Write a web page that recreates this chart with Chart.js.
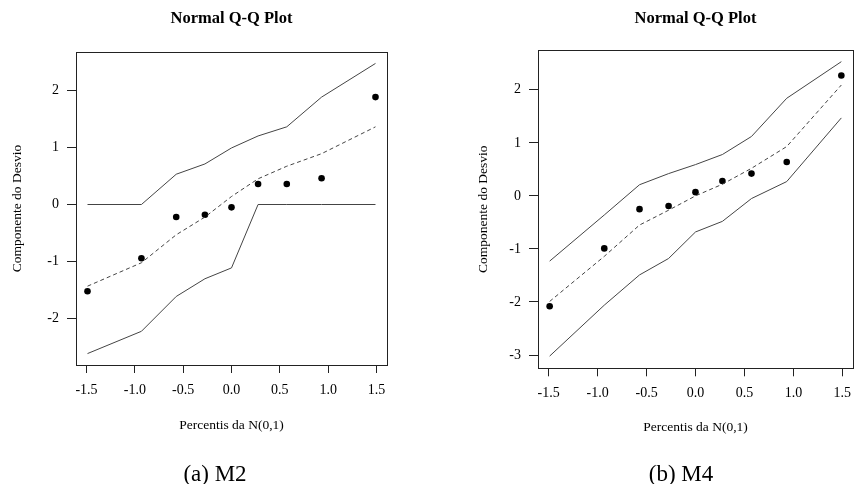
<!DOCTYPE html>
<html>
<head>
<meta charset="utf-8">
<script src="https://cdn.jsdelivr.net/npm/chart.js@4/dist/chart.umd.min.js"></script>
<style>
  body { margin: 0; background: #fff; }
  #wrap { position: relative; width: 857px; height: 484px; overflow: hidden; }
  .panel { position: absolute; top: 0; height: 484px; }
  .caption { position: absolute; font-family: 'Liberation Serif', serif; font-size: 23px; color: #000; transform: translate(-50%, -50%); white-space: nowrap; }
</style>
</head>
<body>
<div id="wrap">
  <div class="panel" style="left:0;width:430px"><canvas id="m2Chart"></canvas></div>
  <div class="panel" style="left:430px;width:427px"><canvas id="m4Chart"></canvas></div>
  <div class="caption" style="left:215px;top:474px">(a) M2</div>
  <div class="caption" style="left:681px;top:474px">(b) M4</div>
</div>
<script>
// theoretical quantiles of N(0,1)
const quantiles = [-1.49, -0.932, -0.572, -0.275, 0, 0.275, 0.572, 0.932, 1.49];
const xTicks = [-1.5, -1.0, -0.5, 0.0, 0.5, 1.0, 1.5];

// M2
const m2Points = [-1.52, -0.94, -0.22, -0.18, -0.05, 0.36, 0.36, 0.46, 1.88];
const m2Upper = [0, 0, 0.53, 0.71, 0.99, 1.20, 1.36, 1.88, 2.47];
const m2Lower = [-2.61, -2.22, -1.61, -1.30, -1.11, 0, 0, 0, 0];
const m2Mean = [-1.43, -1.02, -0.53, -0.22, 0.14, 0.45, 0.67, 0.89, 1.36];
const m2YTicks = [-2, -1, 0, 1, 2];

// M4
const m4Points = [-2.08, -0.99, -0.25, -0.19, 0.07, 0.28, 0.42, 0.64, 2.27];
const m4Upper = [-1.23, -0.36, 0.21, 0.42, 0.59, 0.78, 1.12, 1.84, 2.53];
const m4Lower = [-3.02, -2.06, -1.49, -1.18, -0.68, -0.48, -0.05, 0.27, 1.47];
const m4Mean = [-1.99, -1.14, -0.55, -0.27, 0.0, 0.22, 0.52, 0.93, 2.09];
const m4YTicks = [-3, -2, -1, 0, 1, 2];

const serif = "'Liberation Serif', 'Times New Roman', serif";

function pairs(ys) {
    return quantiles.map((x, i) => ({ x: x, y: ys[i] }));
}

// draws the R style box round the plot region
const boxPlugin = {
    id: 'box',
    afterDatasetsDraw(chart) {
        const a = chart.chartArea;
        const ctx = chart.ctx;
        ctx.save();
        ctx.strokeStyle = '#222';
        ctx.lineWidth = 1;
        ctx.strokeRect(Math.round(a.left) + 0.5, Math.round(a.top) + 0.5,
            Math.round(a.right - a.left), Math.round(a.bottom - a.top));
        ctx.restore();
    }
};

function qqChart(id, pts, upper, lower, mean, yTicks, cfg) {
    const line = (data, dash) => ({
        data: pairs(data),
        showLine: true,
        borderColor: '#444',
        borderWidth: 1,
        borderDash: dash,
        pointRadius: 0,
        fill: false,
        tension: 0,
    });
    return new Chart(document.getElementById(id), {
        type: 'scatter',
        data: {
            datasets: [
                line(upper, []),
                line(lower, []),
                line(mean, [4, 3]),
                {
                    data: pairs(pts),
                    pointRadius: 3.3,
                    pointBackgroundColor: '#000',
                    pointBorderColor: '#000',
                    pointBorderWidth: 0,
                    showLine: false,
                },
            ],
        },
        options: {
            responsive: true,
            maintainAspectRatio: false,
            animation: false,
            layout: { padding: { left: 0, right: cfg.padRight, top: 0, bottom: 0 } },
            scales: {
                x: {
                    type: 'linear',
                    min: -1.609,
                    max: 1.609,
                    afterBuildTicks: (s) => { s.ticks = xTicks.map(v => ({ value: v })); },
                    afterFit: (s) => { s.height = cfg.xHeight; s.paddingLeft = 0; s.paddingRight = 0; },
                    border: { display: false },
                    grid: { drawOnChartArea: false, tickLength: 8, tickColor: '#222', tickWidth: 1 },
                    ticks: {
                        color: '#000',
                        padding: cfg.xTickPad,
                        maxRotation: 0,
                        autoSkip: false,
                        font: { family: serif, size: 14 },
                        callback: (v) => v.toFixed(1),
                    },
                    title: {
                        display: true,
                        text: 'Percentis da N(0,1)',
                        color: '#000',
                        font: { family: serif, size: 13.5 },
                        padding: { top: 0, bottom: cfg.xTitlePad },
                    },
                },
                y: {
                    type: 'linear',
                    min: cfg.yMin,
                    max: cfg.yMax,
                    afterBuildTicks: (s) => { s.ticks = yTicks.map(v => ({ value: v })); },
                    afterFit: (s) => { s.width = cfg.yWidth; s.paddingTop = 0; s.paddingBottom = 0; },
                    border: { display: false },
                    grid: { drawOnChartArea: false, tickLength: 9, tickColor: '#222', tickWidth: 1 },
                    ticks: {
                        color: '#000',
                        padding: 8,
                        autoSkip: false,
                        font: { family: serif, size: 14 },
                        callback: (v) => String(v),
                    },
                    title: {
                        display: true,
                        text: 'Componente do Desvio',
                        color: '#000',
                        font: { family: serif, size: 13.5 },
                        padding: { top: cfg.yTitlePad, bottom: 0 },
                    },
                },
            },
            plugins: {
                legend: { display: false },
                tooltip: { enabled: false },
                title: {
                    display: true,
                    fullSize: false,
                    text: 'Normal Q-Q Plot',
                    color: '#000',
                    font: { family: serif, size: 16.5, weight: 'bold' },
                    padding: { top: cfg.titleTop, bottom: cfg.titleBottom },
                },
            },
        },
        plugins: [boxPlugin],
    });
}

qqChart('m2Chart', m2Points, m2Upper, m2Lower, m2Mean, m2YTicks, {
    yMin: -2.81, yMax: 2.67,
    yWidth: 76, padRight: 43,
    xHeight: 119, xTickPad: 9, xTitlePad: 50,
    yTitlePad: 9.4,
    titleTop: 8.9, titleBottom: 23.3,
});

qqChart('m4Chart', m4Points, m4Upper, m4Lower, m4Mean, m4YTicks, {
    yMin: -3.25, yMax: 2.75,
    yWidth: 108, padRight: 0.5,
    xHeight: 115.7, xTickPad: 9, xTitlePad: 48.5,
    yTitlePad: 45,
    titleTop: 8.4, titleBottom: 21.8,
});
</script>
</body>
</html>
